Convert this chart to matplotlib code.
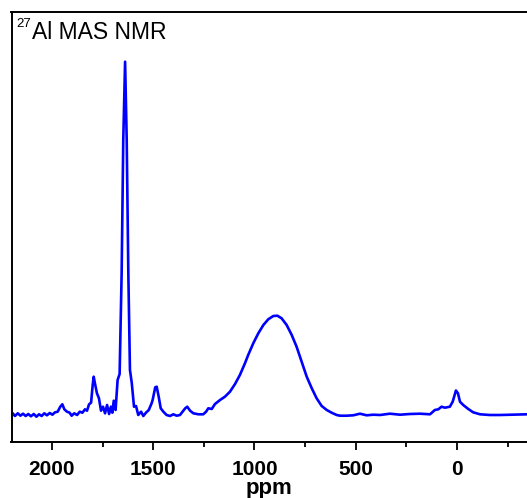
import matplotlib
matplotlib.use('Agg')
from matplotlib import pyplot as plt
from matplotlib import rcParams
from matplotlib.ticker import MultipleLocator

rcParams['font.family'] = ['Liberation Sans', 'DejaVu Sans']

# chemical shift (ppm) and intensity (arb. units, baseline ~0)
ppm = [
    2202, 2194, 2183, 2169, 2156, 2143, 2130, 2117, 2104, 2090, 2077, 2064,
    2051, 2038, 2025, 2011, 1998, 1985, 1972, 1959, 1949, 1939, 1926, 1913,
    1903, 1890, 1876, 1863, 1850, 1837, 1827, 1817, 1807, 1799, 1794, 1788,
    1778, 1768, 1758, 1748, 1738, 1728, 1718, 1709, 1702, 1695, 1686, 1676,
    1666, 1656, 1648, 1639, 1631, 1623, 1615, 1606, 1595, 1585, 1574, 1560,
    1549, 1536, 1522, 1508, 1503, 1490, 1483, 1473, 1463, 1450, 1434, 1417,
    1401, 1384, 1368, 1355, 1342, 1332, 1318, 1302, 1277, 1253, 1239, 1228,
    1211, 1195, 1170, 1146, 1121, 1096, 1072, 1047, 1031, 1006, 981, 956,
    932, 907, 887, 866, 841, 816, 792, 767, 742, 717, 693, 668,
    643, 619, 594, 578, 545, 512, 479, 446, 413, 380, 331, 281,
    232, 183, 133, 109, 92, 76, 59, 35, 21, 5, -5, -15,
    -31, -56, -80, -114, -163, -212, -262, -311, -346,
]
intensity = [
    -1.3, -0.3, -3.0, -0.3, -2.7, -0.7, -3.0, -1.0, -3.3, -1.0, -3.7, -1.3,
    -3.0, -0.3, -2.3, 0.0, -1.7, 0.7, 1.3, 6.3, 8.7, 3.7, 1.3, 0.3,
    -2.7, -0.3, -2.0, 1.3, 0.3, 3.7, 2.3, 8.7, 10.3, 28.0, 36.3, 29.7,
    19.7, 14.7, 2.3, 6.3, -0.3, 8.0, -1.0, 6.3, 0.3, 12.3, 3.0, 33.0,
    39.0, 140.0, 273.0, 351.3, 273.0, 140.0, 43.0, 30.0, 6.3, 7.0, -2.0, 1.3,
    -3.0, 0.3, 3.0, 9.7, 13.0, 25.7, 26.3, 16.3, 4.7, 1.3, -2.0, -3.0,
    -1.3, -2.7, -2.0, 1.3, 4.7, 6.3, 2.3, -0.3, -1.3, -1.3, 1.3, 4.7,
    4.0, 9.0, 13.0, 16.3, 21.3, 29.0, 38.0, 49.7, 58.0, 69.7, 79.7, 88.0,
    93.7, 97.0, 97.3, 94.7, 88.0, 78.0, 66.3, 51.3, 36.3, 24.7, 14.7, 7.0,
    3.0, 0.3, -2.0, -2.7, -2.7, -2.3, -0.7, -2.3, -1.7, -2.0, -0.7, -1.7,
    -1.0, -0.7, -1.3, 3.0, 3.7, 6.3, 5.3, 6.3, 11.3, 22.5, 19.7, 11.3,
    8.0, 4.0, 0.7, -1.3, -2.0, -2.0, -1.7, -1.3, -1.3,
]

fig = plt.figure(figsize=(5.27, 4.98), dpi=100)
ax = fig.add_axes([11.5 / 527, 56.3 / 498, 1 - 11.5 / 527, 429.2 / 498])

ax.plot(ppm, intensity, color='#0000ff', lw=1.9)

ax.set_xlim(2200, -346)
ax.set_ylim(-28.7, 400.5)
ax.set_yticks([])
ax.xaxis.set_major_locator(MultipleLocator(500))
ax.xaxis.set_minor_locator(MultipleLocator(250))
ax.tick_params(axis='x', which='major', direction='out', length=6, width=1.3,
               pad=7.5, labelsize=15)
ax.tick_params(axis='x', which='minor', direction='out', length=3.6, width=1.3)
for lab in ax.get_xticklabels():
    lab.set_fontweight('bold')

for side in ['left', 'top', 'bottom']:
    ax.spines[side].set_linewidth(1.4)
ax.spines['right'].set_visible(False)

ax.set_xlabel('ppm', fontsize=16, fontweight='bold', labelpad=-1)

fig.text(16 / 527, 1 - 27.3 / 498, '27', fontsize=9.5, va='baseline', ha='left')
fig.text(31.5 / 527, 1 - 39 / 498, 'Al MAS NMR', fontsize=16.5, va='baseline', ha='left')

fig.savefig('out.png', dpi=100)
